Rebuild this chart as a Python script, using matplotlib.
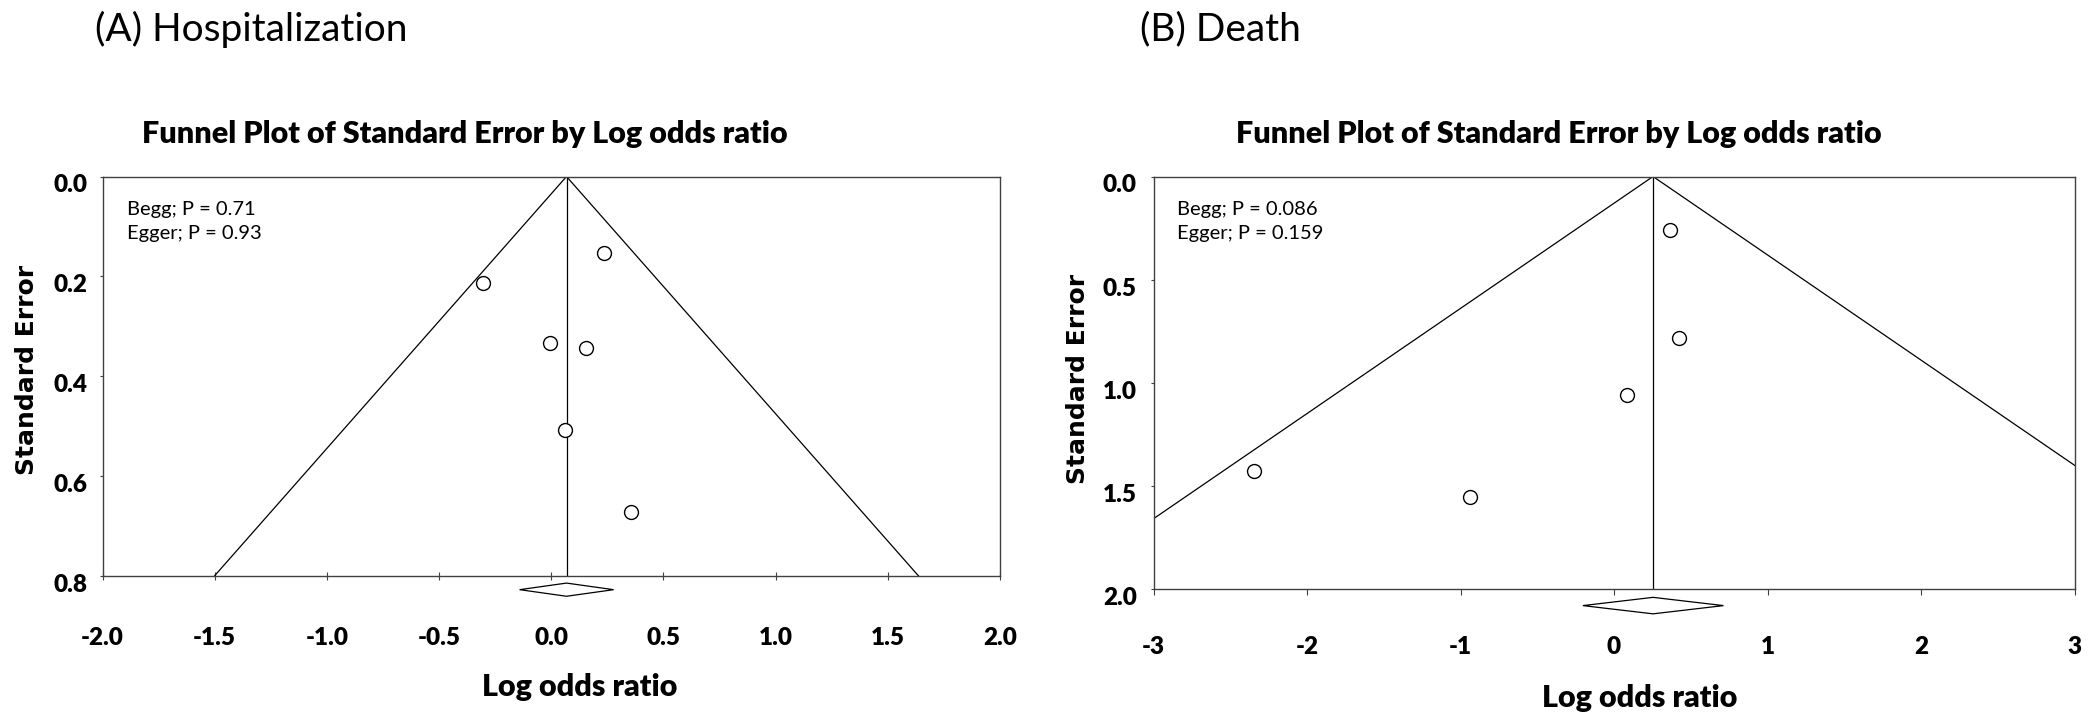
import matplotlib
matplotlib.use("Agg")
from matplotlib import pyplot as plt
from matplotlib.transforms import ScaledTranslation

# (A) Hospitalization: log odds ratio and standard error of each study
hosp_lor = [0.236, -0.304, -0.005, 0.153, 0.063, 0.355]
hosp_se = [0.153, 0.213, 0.333, 0.343, 0.509, 0.672]
hosp_pooled = 0.068
hosp_ci = [-0.141, 0.278]
hosp_tests = ["Begg; P = 0.71", "Egger; P = 0.93"]

# (B) Death
death_lor = [0.365, 0.422, 0.087, -2.343, -0.941]
death_se = [0.259, 0.784, 1.062, 1.430, 1.553]
death_pooled = 0.254
death_ci = [-0.203, 0.713]
death_tests = ["Begg; P = 0.086", "Egger; P = 0.159"]

W, H = 2095, 715
fig = plt.figure(figsize=(W / 100, H / 100), dpi=100)
CAL = ["Lato", "DejaVu Sans"]
BOLD = "heavy"


def fx(px):
    return px / W


def fy(py):
    return 1 - py / H


def funnel(rect, lor, se, pooled, ci, xlim, xticks, xticklabels,
           ymax, yticks, yticklabels, tickdir, ticklen, xpad, ypad,
           diam_y, diam_h):
    ax = fig.add_axes(rect)
    ax.set_xlim(*xlim)
    ax.set_ylim(ymax, 0)
    # funnel limits (95%) and pooled estimate line
    ax.plot([pooled - 1.96 * ymax * 1.5, pooled, pooled + 1.96 * ymax * 1.5],
            [ymax * 1.5, 0, ymax * 1.5], color="black", lw=0.9)
    ax.plot([pooled, pooled], [0, ymax], color="black", lw=0.9)
    ax.plot(lor, se, "o", mfc="white", mec="black", mew=1.0, ms=10,
            clip_on=False, zorder=3)
    # summary diamond below the axis
    tr = ax.get_xaxis_transform()
    ax.fill([ci[0], pooled, ci[1], pooled],
            [diam_y, diam_y + diam_h, diam_y, diam_y - diam_h],
            facecolor="white", edgecolor="black", lw=0.9,
            transform=tr, clip_on=False, zorder=4)

    for s in ax.spines.values():
        s.set_color("#404040")
        s.set_linewidth(1.0)
    tfont = dict(fontfamily=CAL, fontweight=BOLD, fontsize=17.5)
    ax.set_xticks(xticks)
    ax.set_xticklabels(xticklabels, **tfont)
    ax.set_yticks(yticks)
    ax.set_yticklabels(yticklabels, **tfont)
    ax.tick_params(axis="x", direction=tickdir, length=ticklen, width=0.8,
                   color="#404040", pad=xpad)
    ax.tick_params(axis="y", direction="out", length=2, width=0.8,
                   color="#404040", pad=ypad)
    off = ScaledTranslation(0, -7 / 100, fig.dpi_scale_trans)
    for lab in ax.get_yticklabels():
        lab.set_transform(lab.get_transform() + off)
    return ax


ax1 = funnel([fx(102.5), fy(575.7), fx(1000) - fx(102.5), fy(176.5) - fy(575.7)],
             hosp_lor, hosp_se, hosp_pooled, hosp_ci,
             (-2.0, 2.0), [-2, -1.5, -1, -0.5, 0, 0.5, 1, 1.5, 2],
             ["-2.0", "-1.5", "-1.0", "-0.5", "0.0", "0.5", "1.0", "1.5", "2.0"],
             0.8, [0, 0.2, 0.4, 0.6, 0.8], ["0.0", "0.2", "0.4", "0.6", "0.8"],
             "inout", 6, 34, 9, -0.035, 0.0165)
ax2 = funnel([fx(1153.6), fy(588.7), fx(2074.5) - fx(1153.6), fy(176.5) - fy(588.7)],
             death_lor, death_se, death_pooled, death_ci,
             (-3, 3), [-3, -2, -1, 0, 1, 2, 3],
             ["-3", "-2", "-1", "0", "1", "2", "3"],
             2.0, [0, 0.5, 1.0, 1.5, 2.0], ["0.0", "0.5", "1.0", "1.5", "2.0"],
             "out", 4, 30, 10, -0.041, 0.02)

# Begg / Egger test results
for xa, tests in [(127, hosp_tests), (1177, death_tests)]:
    fig.text(fx(xa), fy(215), tests[0], fontsize=14.5, family=CAL, va="baseline")
    fig.text(fx(xa), fy(239), tests[1], fontsize=14.5, family=CAL, va="baseline")

fig.text(fx(95), fy(29), "(A) Hospitalization", fontsize=28, family=CAL, va="center")
fig.text(fx(1140), fy(29), "(B) Death", fontsize=28, family=CAL, va="center")

for xc, yc in [(465, 134.5), (1559, 134.5)]:
    fig.text(fx(xc), fy(yc), "Funnel Plot of Standard Error by Log odds ratio",
             fontsize=22, fontweight=BOLD, family=CAL, ha="center", va="center")

for xc, yc in [(580, 687), (1640, 698)]:
    fig.text(fx(xc), fy(yc), "Log odds ratio", fontsize=22, fontweight=BOLD,
             family=CAL, ha="center", va="center")

for xc, yc in [(27, 370), (1078, 379)]:
    fig.text(fx(xc), fy(yc), "Standard Error", fontsize=18, fontweight="bold",
             family="DejaVu Sans", rotation=90, ha="center", va="center")

fig.savefig("out.png", dpi=100, facecolor="white")
